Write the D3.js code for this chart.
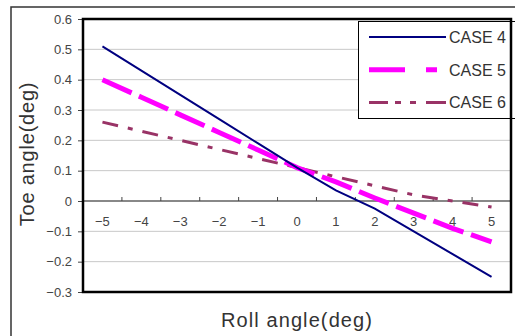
<!DOCTYPE html>
<html>
<head>
<meta charset="utf-8">
<script src="https://cdn.jsdelivr.net/npm/d3@7"></script>
<style>
  html, body { margin: 0; padding: 0; background: #fff; }
  svg { display: block; font-family: Arial, "Liberation Sans", sans-serif; }
</style>
</head>
<body>
<svg id="chart" width="515" height="336"></svg>
<script>
// roll angle categories (deg)
const rollAngles = [-5, -4, -3, -2, -1, 0, 1, 2, 3, 4, 5];
const case4 = [0.51, 0.43, 0.35, 0.27, 0.19, 0.11, 0.035, -0.025, -0.10, -0.175, -0.25];
const case5 = [0.40, 0.342, 0.284, 0.226, 0.168, 0.11, 0.063, 0.01, -0.04, -0.09, -0.135];
const case6 = [0.26, 0.23, 0.20, 0.17, 0.14, 0.11, 0.08, 0.05, 0.02, 0.0, -0.02];
const seriesNames = ["CASE 4", "CASE 5", "CASE 6"];
const yTicks = [-0.3, -0.2, -0.1, 0, 0.1, 0.2, 0.3, 0.4, 0.5, 0.6];

const svg = d3.select("#chart");
const plot = { left: 83, top: 19, right: 511, bottom: 292 };

// outer chart frame (runs off the page on right/bottom)
svg.append("rect")
    .attr("x", 11).attr("y", 7)
    .attr("width", 620).attr("height", 420)
    .attr("fill", "none")
    .attr("stroke", "#333")
    .attr("stroke-width", 1.5);

const x = d3.scalePoint()
    .domain(rollAngles)
    .range([plot.left, plot.right])
    .padding(0.5);

const y = d3.scaleLinear()
    .domain([-0.3, 0.6])
    .range([plot.bottom, plot.top]);

// gridlines
svg.append("g")
    .selectAll("line")
    .data(yTicks.filter(v => v !== 0))
    .join("line")
    .attr("x1", plot.left).attr("x2", plot.right)
    .attr("y1", d => y(d)).attr("y2", d => y(d))
    .attr("stroke", "#c8c8c8")
    .attr("stroke-width", 1);

// y axis
const yAxis = svg.append("g")
    .attr("transform", `translate(${plot.left},0)`)
    .call(d3.axisLeft(y).tickValues(yTicks).tickSize(5).tickPadding(6)
        .tickFormat(d => d === 0 ? "0" : (d < 0 ? "\u2212" : "") + Math.abs(d).toFixed(1)));
yAxis.select(".domain").remove();
yAxis.selectAll(".tick line").attr("stroke", "#444");
yAxis.selectAll("text")
    .attr("font-size", 13)
    .attr("fill", "#444")
    .attr("font-family", "Arial, 'Liberation Sans', sans-serif");

// x axis at zero: ticks on category boundaries, labels under centres
const step = x.step();
const xAxisG = svg.append("g");
xAxisG.append("line")
    .attr("x1", plot.left).attr("x2", plot.right)
    .attr("y1", y(0)).attr("y2", y(0))
    .attr("stroke", "#606060")
    .attr("stroke-width", 1.6);
xAxisG.selectAll("line.tick")
    .data(rollAngles.slice(1))
    .join("line")
    .attr("class", "tick")
    .attr("x1", d => x(d) - step / 2).attr("x2", d => x(d) - step / 2)
    .attr("y1", y(0)).attr("y2", y(0) - 4)
    .attr("stroke", "#444");
xAxisG.selectAll("text")
    .data(rollAngles)
    .join("text")
    .attr("x", d => x(d))
    .attr("y", y(0) + 25)
    .attr("text-anchor", "middle")
    .attr("font-size", 13)
    .attr("fill", "#444")
    .text(d => (d < 0 ? "\u2212" : "") + Math.abs(d));

// series
const series = [
    { name: seriesNames[0], values: case4, color: "#000080", width: 2, dash: null, legendDash: null },
    { name: seriesNames[1], values: case5, color: "#ff00ff", width: 5, dash: "32,8", legendDash: "36,21,11,20" },
    { name: seriesNames[2], values: case6, color: "#993366", width: 3, dash: "16,10,5,10", legendDash: "19,7,6,9,6,10,40" }
];

const line = d3.line()
    .x((d, i) => x(rollAngles[i]))
    .y(d => y(d));

svg.append("g")
    .selectAll("path")
    .data(series.slice().reverse())
    .join("path")
    .attr("d", d => line(d.values))
    .attr("fill", "none")
    .attr("stroke", d => d.color)
    .attr("stroke-width", d => d.width)
    .attr("stroke-dasharray", d => d.dash);

// legend
const legend = svg.append("g");
legend.append("rect")
    .attr("x", 358.5).attr("y", 21.5)
    .attr("width", 170).attr("height", 97)
    .attr("fill", "#fff")
    .attr("stroke", "#000")
    .attr("stroke-width", 1);
const rows = legend.selectAll("g.row")
    .data(series)
    .join("g")
    .attr("class", "row")
    .attr("transform", (d, i) => `translate(0,${37 + i * 32.7})`);
rows.append("line")
    .attr("x1", 369).attr("x2", 446)
    .attr("stroke", d => d.color)
    .attr("stroke-width", d => d.width)
    .attr("stroke-dasharray", d => d.legendDash);
rows.append("text")
    .attr("x", 449)
    .attr("y", 6)
    .attr("font-size", 16)
    .attr("fill", "#333")
    .text(d => d.name);

// plot frame
svg.append("rect")
    .attr("x", plot.left).attr("y", plot.top)
    .attr("width", plot.right - plot.left)
    .attr("height", plot.bottom - plot.top)
    .attr("fill", "none")
    .attr("stroke", "#000")
    .attr("stroke-width", 2.5);

// axis titles
svg.append("text")
    .attr("x", 297)
    .attr("y", 327)
    .attr("text-anchor", "middle")
    .attr("font-size", 20)
    .attr("letter-spacing", 1.1)
    .attr("fill", "#333")
    .text("Roll angle(deg)");

svg.append("text")
    .attr("transform", "translate(34,154) rotate(-90)")
    .attr("text-anchor", "middle")
    .attr("font-size", 20)
    .attr("letter-spacing", 0.8)
    .attr("fill", "#333")
    .text("Toe angle(deg)");
</script>
</body>
</html>
